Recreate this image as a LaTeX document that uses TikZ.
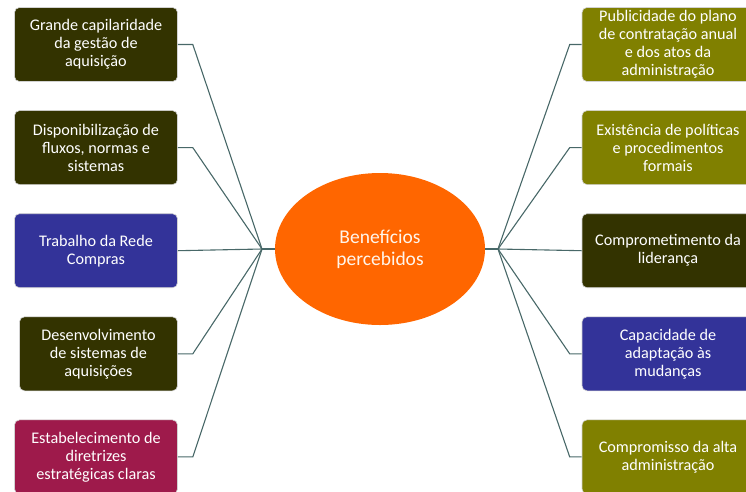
\documentclass[tikz,border=0pt]{standalone}
\usepackage{fontspec}
\setmainfont{Carlito}
\usetikzlibrary{shapes,positioning}

\definecolor{darkolive}{HTML}{333300}
\definecolor{olive}{HTML}{808000}
\definecolor{navy}{HTML}{333399}
\definecolor{crimson}{HTML}{9E1A4B}
\definecolor{centreorange}{HTML}{FF6600}
\definecolor{linkgray}{RGB}{72,104,104}

\begin{document}
\begin{tikzpicture}[
        x=1pt, y=-1pt,
        node distance=28.5pt,
        box/.style={draw=gray!35, line width=0.6pt, rounded corners=5pt, text=white, align=center,
                    minimum height=74pt, inner xsep=1pt, inner ysep=0pt, font=\fontsize{16.2}{18}\selectfont},
        leftbox/.style={box, minimum width=163pt},
        rightbox/.style={box, minimum width=172pt},
        branch/.style={draw=linkgray, line width=1.1pt}
    ]
  \useasboundingbox (0,0) rectangle (746,491);

  % Centre
  \node[ellipse, fill=centreorange, minimum width=210pt, minimum height=152pt, inner sep=0pt,
        text=white!92!orange, align=center, font=\fontsize{19.5}{22}\selectfont]
        (ben) at (380,249) {Benefícios\\percebidos};
  \coordinate (lhub) at (262,249);
  \coordinate (rhub) at (498,249);

  % Left nodes
  \node[leftbox, fill=darkolive] (gestao) at (96,44.5) {Grande capilaridade\\da gestão de\\aquisição};
  \node[leftbox, fill=darkolive, below=of gestao] (fluxos) {Disponibilização de\\fluxos, normas e\\sistemas};
  \node[leftbox, fill=navy, below=of fluxos] (rede) {Trabalho da Rede\\Compras};
  \node[leftbox, fill=darkolive, below=of rede, minimum width=158pt, xshift=2.5pt] (sistemas) {Desenvolvimento\\de sistemas de\\aquisições};
  \node[leftbox, fill=crimson, below=of sistemas, xshift=-2.5pt] (diretrizes) {Estabelecimento de\\diretrizes\\estratégicas claras};

  % Right nodes
  \node[rightbox, fill=olive] (publicidade) at (668,44.5) {Publicidade do plano\\de contratação anual\\e dos atos da\\administração};
  \node[rightbox, fill=olive, below=of publicidade] (politicas) {Existência de políticas\\e procedimentos\\formais};
  \node[rightbox, fill=darkolive, below=of politicas] (lideranca) {Comprometimento da\\liderança};
  \node[rightbox, fill=navy, below=of lideranca] (adaptacao) {Capacidade de\\adaptação às\\mudanças};
  \node[rightbox, fill=olive, below=of adaptacao] (alta) {Compromisso da alta\\administração};

  % Branches
  \draw[branch] (lhub) -- (ben.west);
  \draw[branch] (ben.east) -- (rhub);
  \foreach \n in {gestao,fluxos,sistemas,diretrizes}
    \draw[branch] (\n.east) -- ++(15,0) -- (lhub);
  \draw[branch] (rede.east) -- (lhub);
  \foreach \n in {publicidade,politicas,adaptacao,alta}
    \draw[branch] (\n.west) -- ++(-12,0) -- (rhub);
  \draw[branch] (lideranca.west) -- (rhub);
\end{tikzpicture}
\end{document}
